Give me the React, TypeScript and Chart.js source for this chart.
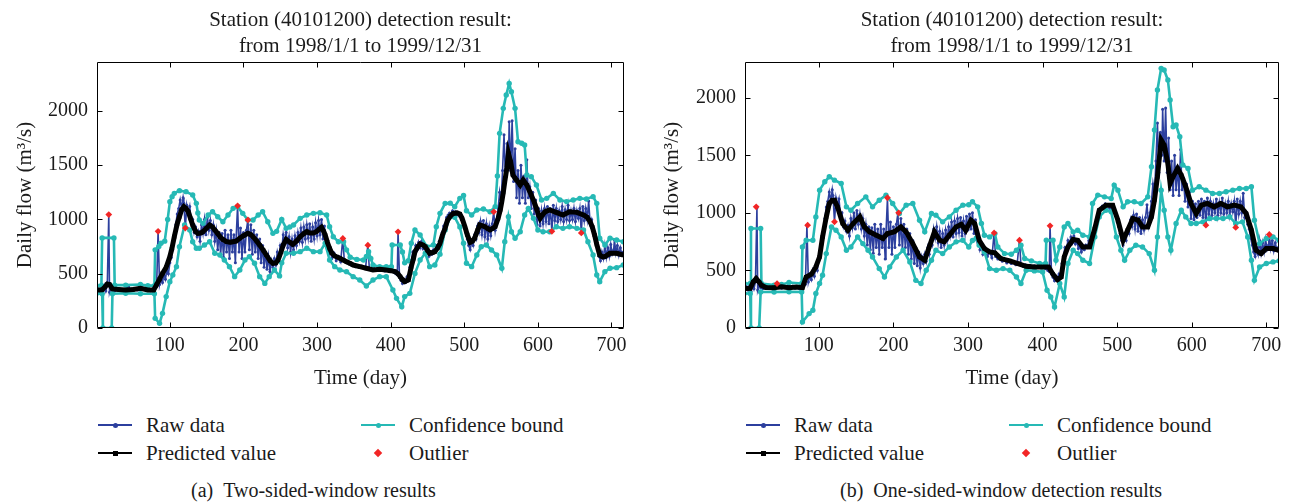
import React, { useEffect, useRef } from 'react';
import { Chart, registerables } from 'chart.js';
Chart.register(...registerables);

type P = [number, number];

const xTickValues = [100, 200, 300, 400, 500, 600, 700];
const yTickValues = [0, 500, 1000, 1500, 2000];
const titleLines = ['Station (40101200) detection result:', 'from 1998/1/1 to 1999/12/31'];
const xTitle = 'Time (day)';
const yTitle = 'Daily flow (m\u00B3/s)';
const legendNames = ['Raw data', 'Confidence bound', 'Predicted value', 'Outlier'];
const captions = ['(a)\u00A0\u00A0Two-sided-window results', '(b)\u00A0\u00A0One-sided-window detection results'];

// Raw daily flow (shared by both panels)
const rawFlow: P[] = [
  [1,345],[3,360],[5,330],[7,380],[9,320],[11,390],[13,340],[15,400],[17,1045],[18,330],[20,380],[22,350],[25,340],[28,360],[31,345],[34,355],[37,340],[40,360],[44,386],[47,350],[50,345],[53,360],[56,350],[59,370],[62,355],[65,365],[68,345],[71,355],[74,340],[77,350],[80,370],[82,380],[84,890],[86,400],[88,460],[90,420],[92,500],[94,450],[96,540],[98,500],[100,600],[102,650],[104,720],[106,820],[108,950],[110,1050],[112,1100],[114,1180],[116,1100],[118,1200],[119,1150],[121,920],[123,1130],[125,1060],[127,1120],[129,980],[131,1000],[133,880],[135,930],[137,840],[139,890],[141,800],[143,950],[145,870],[147,1000],[149,860],[151,1020],[153,900],[155,990],[157,860],[159,950],[161,800],[163,900],[165,720],[167,880],[169,680],[171,870],[173,650],[175,900],[177,700],[179,860],[181,640],[183,900],[185,700],[187,860],[189,600],[190,820],[192,1125],[194,700],[196,920],[198,640],[200,880],[202,700],[204,900],[206,995],[208,720],[210,950],[212,680],[214,900],[216,700],[218,860],[220,640],[222,820],[224,600],[226,760],[228,560],[230,700],[232,540],[234,660],[236,520],[238,620],[240,560],[242,640],[244,580],[246,700],[248,640],[250,760],[252,720],[254,860],[256,780],[258,880],[260,740],[262,840],[264,700],[266,820],[268,720],[270,850],[272,760],[274,880],[276,800],[278,920],[280,790],[282,930],[284,820],[286,950],[288,830],[290,960],[292,800],[294,930],[296,820],[298,970],[300,850],[302,990],[304,860],[306,1000],[308,820],[310,940],[312,760],[314,800],[316,680],[318,720],[320,640],[323,690],[326,620],[329,660],[332,610],[335,825],[337,620],[340,600],[343,610],[346,580],[349,590],[352,565],[355,575],[358,560],[361,570],[364,550],[366,560],[369,763],[371,545],[374,535],[377,550],[380,530],[383,545],[386,535],[389,540],[392,525],[395,535],[398,520],[401,530],[404,515],[407,500],[409,490],[410,886],[412,470],[414,440],[416,410],[418,450],[420,420],[422,470],[424,440],[426,560],[428,620],[430,700],[432,680],[434,760],[436,720],[438,790],[440,740],[442,800],[444,730],[446,760],[448,690],[450,720],[452,660],[454,700],[456,680],[458,720],[460,700],[462,760],[464,740],[466,800],[468,830],[470,880],[472,940],[474,960],[476,1020],[478,1040],[480,1060],[482,1050],[484,1080],[486,1060],[488,1070],[490,1040],[492,1060],[494,1030],[496,1000],[498,980],[500,920],[502,880],[504,820],[506,760],[508,720],[510,800],[512,760],[514,860],[516,820],[518,940],[520,880],[522,980],[524,860],[526,990],[528,840],[530,960],[532,820],[534,940],[536,850],[538,960],[540,1070],[542,900],[544,1000],[546,1100],[548,1250],[550,1150],[552,1450],[554,1780],[556,1350],[558,1700],[560,1500],[561,1900],[563,1450],[565,1910],[567,1350],[569,1650],[571,1200],[573,1450],[575,1150],[577,1500],[579,1200],[581,1400],[583,1150],[585,1550],[587,1200],[589,1300],[591,1100],[593,1250],[595,1050],[597,1180],[599,950],[601,1100],[603,940],[605,1080],[607,960],[609,1100],[611,980],[613,1120],[615,960],[617,1100],[619,890],[621,1130],[623,990],[625,1100],[627,980],[629,1080],[631,1000],[633,1120],[635,980],[637,1090],[639,1000],[641,1130],[643,990],[645,1080],[647,1000],[649,1100],[651,980],[653,1080],[655,1010],[657,1100],[659,876],[661,1120],[663,990],[665,1100],[667,1000],[669,1170],[671,960],[673,1000],[675,900],[677,860],[679,780],[681,720],[683,660],[685,620],[687,700],[689,640],[691,760],[693,650],[695,740],[697,660],[699,770],[701,680],[703,720],[704,812],[706,690],[708,760],[710,670],[712,740],[714,680],[716,700]
];

// (a) two-sided window
const predictedA: P[] = [
  [0,350],[8,352],[12,380],[15,405],[18,400],[22,360],[30,355],[40,350],[50,355],[60,365],[70,350],[78,350],[82,400],[86,450],[90,503],[95,560],[100,657],[103,740],[106,841],[110,960],[113,1025],[116,1090],[119,1117],[122,1100],[125,1071],[128,1010],[131,949],[135,890],[138,872],[142,875],[145,887],[150,920],[154,949],[158,930],[161,903],[165,870],[168,841],[172,815],[177,795],[182,790],[186,795],[190,800],[195,826],[200,850],[206,872],[210,860],[213,841],[218,800],[222,764],[227,715],[231,672],[236,620],[240,596],[244,600],[247,626],[251,700],[254,764],[258,815],[263,790],[267,770],[272,800],[277,841],[282,870],[286,887],[290,875],[295,875],[299,887],[303,910],[306,927],[309,890],[311,857],[314,790],[317,734],[320,690],[324,663],[331,642],[336,625],[340,611],[345,595],[349,580],[358,565],[367,550],[376,534],[385,540],[394,534],[400,528],[406,519],[410,500],[413,473],[416,445],[419,427],[424,442],[428,565],[431,640],[433,703],[437,750],[440,774],[444,765],[447,749],[450,715],[453,688],[457,695],[460,703],[464,740],[467,780],[470,850],[474,920],[477,990],[481,1030],[485,1055],[490,1060],[494,1050],[497,1010],[501,930],[504,860],[508,790],[511,800],[514,826],[518,900],[521,949],[525,940],[528,933],[532,915],[535,903],[538,915],[542,933],[546,1010],[549,1090],[551,1164],[553,1250],[555,1348],[558,1480],[560,1609],[563,1532],[566,1409],[569,1380],[571,1363],[576,1317],[580,1363],[585,1317],[588,1270],[591,1225],[595,1160],[598,1102],[601,1040],[603,1010],[606,1040],[610,1071],[616,1087],[625,1065],[634,1041],[643,1071],[653,1065],[662,1041],[667,1020],[671,979],[674,930],[677,857],[680,770],[684,672],[688,655],[691,657],[695,675],[698,688],[707,688],[716,672]
];
const upperA: P[] = [
  [0,390],[7,392],[8,830],[24,830],[25,395],[40,395],[60,400],[70,390],[79,390],[80,720],[85,750],[88,780],[93,800],[97,1000],[100,1163],[103,1210],[106,1240],[113,1265],[122,1256],[131,1225],[136,1148],[138,1060],[140,995],[145,964],[152,1041],[158,1071],[165,1025],[172,979],[179,1041],[186,1102],[192,1117],[199,1056],[206,995],[213,995],[220,1041],[226,1071],[233,979],[240,872],[245,890],[252,1000],[258,918],[263,930],[268,949],[277,1010],[286,1041],[295,1056],[304,1062],[313,1041],[317,933],[322,841],[329,795],[336,795],[340,720],[345,651],[354,632],[363,626],[367,660],[370,703],[373,640],[376,580],[385,565],[394,565],[401,565],[402,764],[413,764],[416,700],[419,600],[424,620],[428,780],[433,903],[440,857],[449,749],[458,764],[462,933],[467,1056],[474,1148],[481,1150],[487,1117],[494,1194],[499,1220],[503,1080],[510,1041],[517,1087],[526,1096],[535,1071],[542,1118],[545,1400],[548,1793],[553,2023],[557,2146],[561,2253],[564,2176],[569,2023],[573,1716],[578,1701],[582,1686],[585,1409],[591,1394],[598,1317],[605,1179],[612,1194],[621,1240],[630,1179],[639,1164],[648,1179],[657,1194],[666,1188],[675,1210],[680,1148],[684,826],[691,764],[698,826],[707,810],[716,795]
];
const lowerA: P[] = [
  [0,315],[8,315],[9,0],[21,0],[22,315],[40,320],[60,315],[79,315],[80,89],[86,43],[90,135],[95,289],[100,427],[104,488],[109,565],[113,749],[120,949],[127,903],[131,795],[136,734],[140,734],[147,764],[154,795],[161,688],[168,672],[174,626],[181,565],[188,473],[195,534],[202,626],[208,657],[215,596],[222,473],[229,411],[235,473],[242,534],[249,480],[252,600],[258,688],[268,688],[277,703],[286,734],[295,703],[304,703],[311,780],[317,626],[324,565],[331,534],[340,519],[349,473],[358,442],[367,387],[376,442],[385,473],[394,473],[403,350],[408,273],[415,196],[419,289],[426,319],[433,503],[440,626],[447,688],[453,565],[460,580],[467,680],[474,903],[481,1025],[487,1020],[494,930],[499,780],[503,596],[510,565],[517,672],[523,749],[530,764],[537,718],[544,672],[551,550],[555,795],[560,1025],[564,887],[569,826],[576,887],[582,1041],[587,1102],[594,1010],[600,903],[607,887],[616,887],[625,933],[634,918],[643,933],[653,918],[662,903],[668,795],[675,672],[680,488],[684,427],[691,519],[698,550],[707,556],[716,580]
];
const outliersA: P[] = [
  [17,1045],[84,890],[121,920],[192,1125],[206,995],[335,825],[369,763],[410,886],[540,1070],[619,890],[659,876]
];

// (b) one-sided window
const predictedB: P[] = [
  [0,342],[8,345],[12,400],[16,429],[20,400],[23,371],[29,351],[40,350],[50,358],[60,350],[70,355],[78,350],[83,443],[90,467],[96,530],[101,617],[105,791],[110,965],[114,1081],[118,1110],[121,1110],[125,1052],[132,907],[139,849],[146,907],[155,965],[161,878],[168,835],[177,806],[186,777],[192,820],[201,835],[210,878],[217,835],[226,733],[235,617],[242,588],[248,704],[255,835],[262,762],[268,748],[275,806],[284,878],[291,900],[297,849],[304,936],[309,907],[315,762],[322,690],[329,661],[336,652],[344,603],[356,583],[367,560],[378,536],[389,530],[400,530],[408,530],[414,467],[420,420],[425,443],[429,617],[434,704],[441,768],[447,762],[454,704],[463,704],[470,864],[476,1023],[485,1067],[494,1067],[501,936],[508,762],[514,849],[521,951],[528,936],[534,878],[541,878],[546,965],[550,1110],[554,1313],[559,1632],[563,1589],[568,1429],[571,1255],[575,1313],[581,1386],[586,1328],[592,1226],[599,1081],[606,994],[613,1067],[621,1081],[630,1052],[639,1081],[648,1052],[657,1067],[666,1052],[673,994],[680,849],[686,675],[693,646],[700,690],[709,690],[717,675]
];
const upperB: P[] = [
  [0,386],[8,386],[9,864],[22,864],[23,386],[40,372],[50,378],[60,395],[77,386],[78,704],[83,762],[92,762],[96,965],[101,1197],[108,1270],[114,1313],[121,1284],[130,1255],[137,1052],[143,1023],[152,1081],[163,1139],[172,1052],[181,1110],[190,1154],[199,1081],[208,994],[217,1067],[226,1081],[235,936],[242,835],[251,994],[257,980],[266,922],[275,965],[284,1023],[293,1067],[301,1070],[306,1096],[313,1052],[318,907],[322,806],[329,791],[336,820],[340,704],[349,646],[358,641],[365,675],[371,719],[376,603],[385,583],[396,560],[404,560],[405,762],[414,762],[418,588],[423,704],[429,878],[434,907],[441,835],[447,849],[454,806],[463,791],[467,1081],[474,1154],[483,1139],[492,1125],[496,1241],[501,1197],[508,1052],[514,1096],[523,1096],[532,1081],[541,1139],[546,1400],[550,1719],[554,2067],[559,2255],[563,2241],[568,2154],[571,1980],[575,1748],[579,1763],[584,1661],[588,1415],[595,1386],[601,1197],[610,1226],[619,1197],[628,1168],[637,1168],[646,1183],[655,1197],[664,1212],[673,1212],[680,1226],[684,936],[691,733],[700,777],[709,791],[717,762]
];
const lowerB: P[] = [
  [0,299],[8,299],[9,0],[20,0],[22,313],[40,313],[60,315],[77,313],[78,52],[87,125],[92,154],[96,299],[101,386],[105,458],[110,646],[117,878],[123,849],[130,791],[137,675],[143,704],[152,791],[159,733],[166,675],[172,617],[181,516],[188,443],[195,530],[204,617],[213,675],[222,574],[230,414],[237,386],[244,501],[251,588],[257,675],[266,646],[275,704],[284,748],[293,762],[301,704],[306,760],[311,780],[315,719],[322,661],[329,516],[338,501],[347,516],[356,501],[365,443],[371,386],[378,501],[389,496],[400,487],[406,328],[411,270],[416,183],[423,386],[429,270],[434,560],[441,675],[447,646],[454,588],[463,560],[470,791],[476,965],[485,1023],[492,1009],[499,791],[505,675],[510,588],[517,675],[525,719],[534,704],[543,646],[550,501],[554,791],[559,1197],[563,1023],[568,791],[572,675],[579,907],[586,1023],[592,965],[599,907],[606,907],[615,922],[624,951],[633,951],[642,951],[651,965],[659,907],[668,922],[675,791],[680,588],[684,414],[691,530],[700,560],[709,574],[717,583]
];
const outliersB: P[] = [
  [16,1052],[44,386],[85,893],[121,922],[192,1131],[207,1000],[335,826],[369,762],[410,887],[619,893],[659,873],[704,812]
];

const BLUE = '#2c3f9e';
const CYAN = '#26b9b5';
const RED = '#f22525';
const TEXT = '#1b1b1b';
const FONT = '"Liberation Serif", "Times New Roman", serif';

const pts = (a: P[]) => a.map(([x, y]) => ({ x, y }));

const boxPlugin = {
  id: 'boxTicks',
  afterDatasetsDraw(chart: any) {
    const { ctx, chartArea: a, scales } = chart;
    ctx.save();
    ctx.strokeStyle = '#000';
    ctx.lineWidth = 1;
    const L = Math.round(a.left) + 0.5, R = Math.round(a.right) - 0.5;
    const T = Math.round(a.top) + 0.5, B = Math.round(a.bottom) - 0.5;
    ctx.beginPath();
    ctx.rect(L, T, R - L, B - T);
    for (const t of scales.x.ticks) {
      const px = Math.round(scales.x.getPixelForValue(t.value)) + 0.5;
      ctx.moveTo(px, B); ctx.lineTo(px, B - 5);
      ctx.moveTo(px, T); ctx.lineTo(px, T + 5);
    }
    for (const t of scales.y.ticks) {
      const py = Math.round(scales.y.getPixelForValue(t.value)) + 0.5;
      ctx.moveTo(L, py); ctx.lineTo(L + 5, py);
      ctx.moveTo(R, py); ctx.lineTo(R - 5, py);
    }
    ctx.stroke();
    ctx.restore();
  },
};

function makeConfig(pred: P[], upper: P[], lower: P[], outliers: P[], yMax: number, yWidth: number, yTitlePad: number, rightPad: number): any {
  const tickFont = { family: FONT, size: 20 };
  const labelFont = { family: FONT, size: 21, lineHeight: 1.2 };
  return {
    type: 'line',
    data: {
      datasets: [
        { label: 'Outlier', data: pts(outliers), showLine: false, pointStyle: 'rectRot', pointRadius: 3.4, borderWidth: 0, backgroundColor: RED, borderColor: RED, order: 1 },
        { label: 'Predicted value', data: pts(pred), borderColor: '#000', backgroundColor: '#000', borderWidth: 5, pointStyle: 'rect', pointRadius: 2.8, pointBorderWidth: 0, order: 2 },
        { label: 'Upper bound', data: pts(upper), borderColor: CYAN, backgroundColor: CYAN, borderWidth: 2.6, pointRadius: 2.7, pointBorderWidth: 0, order: 3 },
        { label: 'Lower bound', data: pts(lower), borderColor: CYAN, backgroundColor: CYAN, borderWidth: 2.6, pointRadius: 2.7, pointBorderWidth: 0, order: 3 },
        { label: 'Raw data', data: pts(rawFlow), borderColor: BLUE, backgroundColor: BLUE, borderWidth: 1.6, pointRadius: 1.5, pointBorderWidth: 0, order: 4 },
      ],
    },
    options: {
      animation: false,
      responsive: false,
      devicePixelRatio: 1,
      events: [],
      layout: { padding: { left: 0, right: rightPad, top: 0, bottom: 0 } },
      elements: { line: { tension: 0 } },
      plugins: {
        legend: { display: false },
        tooltip: { enabled: false },
        title: {
          display: true,
          text: titleLines,
          fullSize: false,
          color: TEXT,
          font: { family: FONT, size: 21, weight: 'normal', lineHeight: 1.25 },
          padding: { top: 7, bottom: 2.5 },
        },
      },
      scales: {
        x: {
          type: 'linear',
          min: 1,
          max: 717,
          bounds: 'data',
          afterBuildTicks: (s: any) => { s.ticks = xTickValues.map((v) => ({ value: v })); },
          afterFit: (s: any) => { s.height = 67; },
          grid: { display: false, drawTicks: false },
          border: { display: false },
          ticks: { padding: 6, color: TEXT, font: tickFont, autoSkip: false, maxRotation: 0, callback: (v: any) => String(v) },
          title: { display: true, text: xTitle, color: TEXT, font: labelFont, padding: { top: 0, bottom: 4.4 } },
        },
        y: {
          type: 'linear',
          min: 0,
          max: yMax,
          bounds: 'data',
          afterBuildTicks: (s: any) => { s.ticks = yTickValues.map((v) => ({ value: v })); },
          afterFit: (s: any) => { s.width = yWidth; },
          grid: { display: false, drawTicks: false },
          border: { display: false },
          ticks: { padding: 9, color: TEXT, font: tickFont, autoSkip: false, callback: (v: any) => String(v) },
          title: { display: true, text: yTitle, color: TEXT, font: labelFont, padding: { top: yTitlePad, bottom: 0 } },
        },
      },
    },
    plugins: [boxPlugin],
  };
}

function Panel({ left, width, config }: { left: number; width: number; config: () => any }) {
  const ref = useRef<HTMLCanvasElement>(null);
  useEffect(() => {
    if (!ref.current) return;
    const chart = new Chart(ref.current, config());
    return () => chart.destroy();
  }, []);
  return <canvas ref={ref} width={width} height={395} style={{ position: 'absolute', left, top: 0, width, height: 395 }} />;
}

function LegendItem({ x, y, kind, text, textX }: { x: number; y: number; kind: string; text: string; textX: number }) {
  const color = kind === 'raw' ? BLUE : kind === 'pred' ? '#000' : kind === 'bound' ? CYAN : RED;
  const cx = x + 17;
  return (
    <>
      {kind !== 'out' && (
        <div style={{ position: 'absolute', left: x, top: y - 1, width: 34, height: 2, background: color }} />
      )}
      {kind === 'out' ? (
        <div style={{ position: 'absolute', left: cx - 3, top: y - 3, width: 6, height: 6, background: color, transform: 'rotate(45deg)' }} />
      ) : (
        <div style={{ position: 'absolute', left: cx - 2.5, top: y - 2.5, width: 5, height: 5, background: color, borderRadius: kind === 'pred' ? 0 : 3 }} />
      )}
      <div style={{ position: 'absolute', left: textX, top: y - 13, lineHeight: '26px', fontSize: 21, whiteSpace: 'nowrap', color: TEXT }}>{text}</div>
    </>
  );
}

function Legend({ base }: { base: number }) {
  const r1 = 425, r2 = 453;
  return (
    <>
      <LegendItem x={base + 1} y={r1} kind="raw" text={legendNames[0]} textX={base + 49} />
      <LegendItem x={base + 264} y={r1} kind="bound" text={legendNames[1]} textX={base + 312} />
      <LegendItem x={base + 1} y={r2} kind="pred" text={legendNames[2]} textX={base + 49} />
      <LegendItem x={base + 264} y={r2} kind="out" text={legendNames[3]} textX={base + 312} />
    </>
  );
}

export default function App() {
  return (
    <div style={{ position: 'absolute', left: 0, top: 0, width: 1293, height: 503, background: '#fff', fontFamily: FONT, overflow: 'hidden' }}>
      <Panel left={0} width={646} config={() => makeConfig(predictedA, upperA, lowerA, outliersA, 2450, 97, 12.4, 22)} />
      <Panel left={650} width={643} config={() => makeConfig(predictedB, upperB, lowerB, outliersB, 2310, 95, 9.4, 14)} />
      <Legend base={97} />
      <Legend base={745} />
      <div style={{ position: 'absolute', left: 191, top: 477, lineHeight: '26px', fontSize: 20, whiteSpace: 'nowrap', color: TEXT }}>{captions[0]}</div>
      <div style={{ position: 'absolute', left: 840, top: 477, lineHeight: '26px', fontSize: 20, whiteSpace: 'nowrap', color: TEXT }}>{captions[1]}</div>
    </div>
  );
}
